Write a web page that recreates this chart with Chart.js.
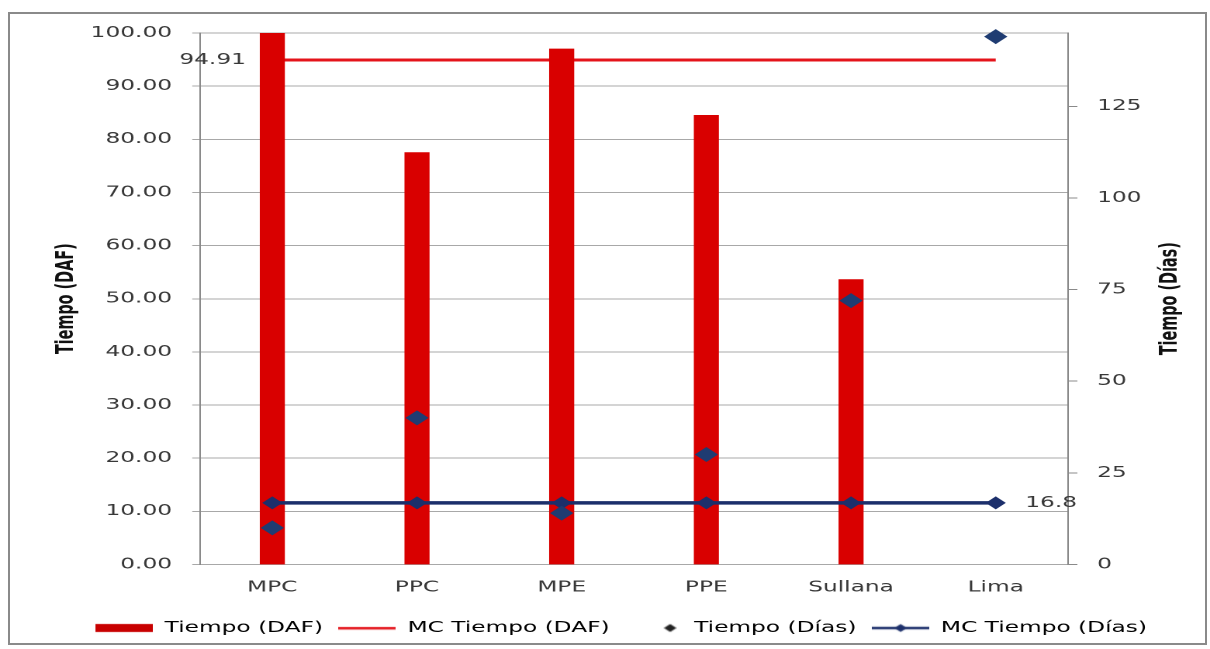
<!DOCTYPE html>
<html>
<head>
<meta charset="utf-8">
<script src="https://cdn.jsdelivr.net/npm/chart.js@4.4.1/dist/chart.umd.min.js"></script>
<style>
    html, body { margin: 0; padding: 0; background: #fff; }
    body { width: 1210px; height: 649px; position: relative; overflow: hidden; }
    #frame { position: absolute; left: 8px; top: 12px; width: 1199px; height: 633px; border: 2px solid #8a8a8a; box-sizing: border-box; }
    /* chart is laid out at 780px and widened to fill the 1210px frame */
    #wrap { position: absolute; left: 0; top: 0; width: 780px; height: 649px; transform: scaleX(1.5513); transform-origin: 0 0; }
</style>
</head>
<body>
<div id="frame"></div>
<div id="wrap"><canvas id="chart" width="780" height="649"></canvas></div>
<script>
// Chart data
const categories = ['MPC', 'PPC', 'MPE', 'PPE', 'Sullana', 'Lima'];
const tiempoDaf = [100, 77.5, 97, 84.5, 53.6, null];
const mcTiempoDaf = [94.91, 94.91, 94.91, 94.91, 94.91, 94.91];
const tiempoDias = [10, 40, 14, 30, 72, 144];
const mcTiempoDias = [16.8, 16.8, 16.8, 16.8, 16.8, 16.8];
const legendNames = ['Tiempo (DAF)', 'MC Tiempo (DAF)', 'Tiempo (Días)', 'MC Tiempo (Días)'];

const RED_BAR = '#D90000';
const RED_LINE = '#E4141B';
const NAVY = '#1C2F6B';
const NAVY_POINT = '#1F3C72';
const TEXT = '#383838';
const FONT = '"DejaVu Sans", Verdana, sans-serif';

// Small canvases used as legend symbols
function makeIcon(w, h, draw) {
    const c = document.createElement('canvas');
    c.width = w;
    c.height = h;
    draw(c.getContext('2d'));
    return c;
}
function diamond(ctx, x, y, r, color) {
    ctx.fillStyle = color;
    ctx.beginPath();
    ctx.moveTo(x - r, y);
    ctx.lineTo(x, y - r);
    ctx.lineTo(x + r, y);
    ctx.lineTo(x, y + r);
    ctx.closePath();
    ctx.fill();
}
const legendIcons = [
    makeIcon(37, 10, ctx => { ctx.fillStyle = '#C80000'; ctx.fillRect(0, 1, 37, 8); }),
    makeIcon(37, 10, ctx => { ctx.fillStyle = RED_LINE; ctx.fillRect(0, 4, 37, 2.5); }),
    makeIcon(37, 10, ctx => diamond(ctx, 29, 5, 4, '#222')),
    makeIcon(37, 10, ctx => { ctx.fillStyle = NAVY; ctx.fillRect(0, 3.8, 37, 2.5); diamond(ctx, 18.5, 5, 4, NAVY); })
];

// Value labels on the mean lines and the rotated right axis title
const extras = {
    id: 'extras',
    afterDatasetsDraw(chart) {
        const ctx = chart.ctx;
        ctx.save();
        ctx.font = '15px ' + FONT;
        ctx.fillStyle = TEXT;
        ctx.textBaseline = 'middle';
        const first = chart.getDatasetMeta(1).data[0];
        ctx.textAlign = 'right';
        ctx.fillText(mcTiempoDaf[0].toFixed(2), first.x - 17, first.y);
        const last = chart.getDatasetMeta(3).data[5];
        ctx.textAlign = 'left';
        ctx.fillText(String(mcTiempoDias[5]), last.x + 19, last.y);

        const area = chart.chartArea;
        ctx.translate(754.5, (area.top + area.bottom) / 2);
        ctx.rotate(-Math.PI / 2);
        ctx.textAlign = 'center';
        ctx.font = 'bold 16px "DejaVu Sans Condensed", "DejaVu Sans", sans-serif';
        ctx.fillStyle = '#111';
        ctx.fillText('Tiempo (Días)', 0, 0);
        ctx.restore();
    }
};

const chart = new Chart(document.getElementById('chart'), {
    data: {
        labels: categories,
        datasets: [
            {
                type: 'bar',
                label: legendNames[0],
                data: tiempoDaf,
                backgroundColor: RED_BAR,
                barThickness: 15.5,
                yAxisID: 'y',
                order: 3
            },
            {
                type: 'line',
                label: legendNames[1],
                data: mcTiempoDaf,
                borderColor: RED_LINE,
                borderWidth: 3,
                pointRadius: 0,
                yAxisID: 'y',
                order: 4
            },
            {
                type: 'line',
                label: legendNames[2],
                data: tiempoDias,
                showLine: false,
                pointStyle: 'rectRot',
                pointRadius: 7.5,
                pointBackgroundColor: NAVY_POINT,
                pointBorderColor: NAVY_POINT,
                pointBorderWidth: 0,
                yAxisID: 'y2',
                clip: false,
                order: 1
            },
            {
                type: 'line',
                label: legendNames[3],
                data: mcTiempoDias,
                borderColor: NAVY,
                borderWidth: 3.5,
                pointStyle: 'rectRot',
                pointRadius: 6.5,
                pointBackgroundColor: NAVY,
                pointBorderColor: NAVY,
                pointBorderWidth: 0,
                yAxisID: 'y2',
                order: 2
            }
        ]
    },
    options: {
        responsive: false,
        animation: false,
        devicePixelRatio: 2,
        layout: { padding: { left: 21, right: 0, top: 33, bottom: 3.5 } },
        plugins: {
            tooltip: { enabled: false },
            legend: {
                position: 'bottom',
                labels: {
                    usePointStyle: true,
                    pointStyleWidth: 37,
                    padding: 10,
                    color: TEXT,
                    font: { family: FONT, size: 15 },
                    generateLabels: () => legendNames.map((text, i) => ({
                        text: text,
                        pointStyle: legendIcons[i],
                        fillStyle: 'transparent',
                        strokeStyle: 'transparent',
                        lineWidth: 0,
                        hidden: false,
                        datasetIndex: i
                    }))
                }
            }
        },
        scales: {
            x: {
                offset: true,
                grid: { display: false },
                border: { display: false },
                ticks: { color: TEXT, font: { family: FONT, size: 15 }, padding: 6 },
                afterFit: s => { s.height = 46; }
            },
            y: {
                position: 'left',
                min: 0,
                max: 100,
                ticks: {
                    stepSize: 10,
                    color: TEXT,
                    padding: 13,
                    font: { family: FONT, size: 15 },
                    callback: v => v.toFixed(2)
                },
                grid: { color: '#a8a8a8', tickLength: 5 },
                border: { color: '#8a8a8a' },
                title: {
                    display: true,
                    text: 'Tiempo (DAF)',
                    color: '#111',
                    font: { family: '"DejaVu Sans Condensed", "DejaVu Sans", sans-serif', size: 16, weight: 'bold' },
                    padding: { top: 12, bottom: 0 }
                },
                afterFit: s => { s.width = 107.9; }
            },
            y2: {
                position: 'right',
                min: 0,
                max: 145,
                ticks: {
                    stepSize: 25,
                    includeBounds: false,
                    color: TEXT,
                    padding: 12.7,
                    font: { family: FONT, size: 15 }
                },
                grid: { drawOnChartArea: false, color: '#8a8a8a', tickLength: 6 },
                border: { color: '#8a8a8a' },
                afterFit: s => { s.width = 91.5; }
            }
        }
    },
    plugins: [extras]
});
</script>
</body>
</html>
